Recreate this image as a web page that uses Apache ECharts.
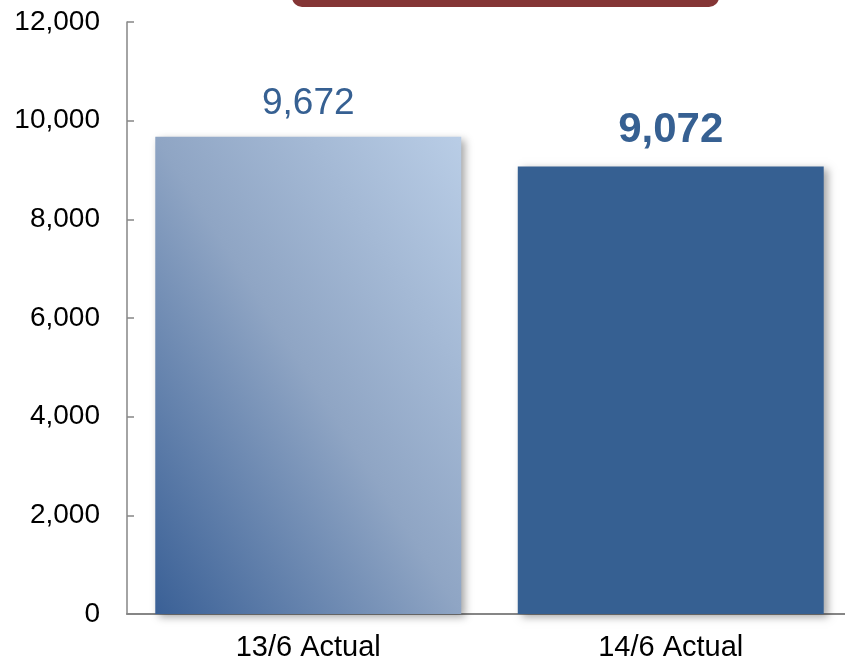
<!DOCTYPE html>
<html>
<head>
<meta charset="utf-8">
<script src="https://cdn.jsdelivr.net/npm/echarts@6/dist/echarts.min.js"></script>
<style>
  html, body { margin: 0; padding: 0; background: #ffffff; }
  #chart { width: 845px; height: 662px; }
</style>
</head>
<body>
<div id="chart"></div>
<script>
// Headcount comparison, June actuals
const categories = ['13/6 Actual', '14/6 Actual'];
const values = [9672, 9072];
const yTicks = [0, 2000, 4000, 6000, 8000, 10000, 12000];

const FONT = '"Liberation Sans", Arial, sans-serif';
const BLUE = '#366092';

const chart = echarts.init(document.getElementById('chart'), null, { renderer: 'canvas' });

const fmt = v => v.toLocaleString('en-US');

const shadow = { shadowColor: 'rgba(0,0,0,0.35)', shadowBlur: 8, shadowOffsetX: 4, shadowOffsetY: 3 };

const barStyles = [
  {
    // diagonal fill whose bands run parallel to the top-left / bottom-right diagonal
    itemStyle: Object.assign({
      color: new echarts.graphic.LinearGradient(0, 1, 1.417, 0.417, [
        { offset: 0, color: '#3a6096' },
        { offset: 0.5, color: '#8fa5c4' },
        { offset: 1, color: '#b9cde6' }
      ])
    }, shadow),
    label: { fontSize: 37, fontWeight: 'normal' }
  },
  {
    itemStyle: Object.assign({ color: BLUE }, shadow),
    label: { fontSize: 42, fontWeight: 'bold' }
  }
];

chart.setOption({
  animation: false,
  // the plot area runs slightly past the right edge of the canvas
  grid: { left: 127, top: 22, width: 725, height: 592, containLabel: false, outerBoundsMode: 'none' },
  graphic: [
    {
      type: 'rect',
      shape: { x: 292, y: -30, width: 427, height: 37, r: 10 },
      style: { fill: '#843535' },
      silent: true
    }
  ],
  xAxis: {
    type: 'category',
    data: categories,
    axisLine: { show: true, lineStyle: { color: '#868686', width: 2 } },
    axisTick: { show: false },
    axisLabel: { color: '#000', fontSize: 29, fontFamily: FONT, margin: 19 }
  },
  yAxis: {
    type: 'value',
    min: yTicks[0],
    max: yTicks[yTicks.length - 1],
    interval: yTicks[1] - yTicks[0],
    axisLine: { show: true, lineStyle: { color: '#868686', width: 1.5 } },
    axisTick: { show: true, inside: true, length: 7, lineStyle: { color: '#868686', width: 1.5 } },
    splitLine: { show: false },
    axisLabel: { color: '#000', fontSize: 28, fontFamily: FONT, margin: 27, formatter: v => fmt(v) }
  },
  series: [{
    type: 'bar',
    barCategoryGap: '15.6%',
    data: values.map((v, i) => ({
      value: v,
      itemStyle: barStyles[i].itemStyle,
      label: barStyles[i].label
    })),
    label: {
      show: true,
      position: 'top',
      distance: 15,
      color: BLUE,
      fontFamily: FONT,
      formatter: p => fmt(p.value)
    }
  }]
});
</script>
</body>
</html>
